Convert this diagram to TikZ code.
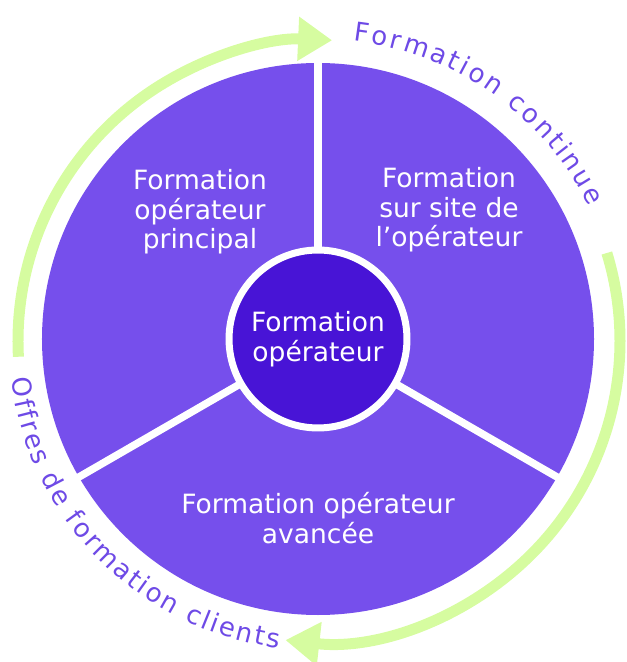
\documentclass[tikz,border=0pt]{standalone}
\usepackage{fontspec}
\setmainfont{DejaVu Sans}
\usetikzlibrary{arrows.meta,decorations.text}

\definecolor{segpurple}{RGB}{118,79,236}
\definecolor{coredark}{RGB}{72,20,214}
\definecolor{lime}{RGB}{214,252,160}
\definecolor{textpurple}{RGB}{110,74,230}

\newcommand\arcfont{\fontsize{14.8pt}{17pt}\selectfont}

\begin{document}
\begin{tikzpicture}[x = 0.02cm, y = 0.02cm,
        segtext/.style = {text = white, align = center,
            font = \fontsize{15.1pt}{16.8pt}\selectfont},
        greenarc/.style = {draw = lime, line width = 0.22cm,
            -{Triangle[length = 0.68cm, width = 0.84cm]}},
        arctext/.style = {decorate, decoration = {text along path,
            text color = textpurple, text align = fit to path}}]

        % Rahmen
        \useasboundingbox (-318, -323) rectangle (308, 339);

        % Scheibe
        \fill [segpurple] (0, 0) circle [radius = 276];
        \foreach \ang in {90, 210, 330}
            \draw [white, line width = 0.15cm] (0, 0) -- (\ang : 285);

        % Mitte
        \node [circle, fill = coredark, draw = white, line width = 0.14cm,
            minimum size = 3.56cm, inner sep = 0pt, segtext]
            (core) at (0, 0) {Formation\\opérateur};

        % Segmente
        \node [segtext] (principal) at (-118, 127) {Formation\\opérateur\\principal};
        \node [segtext] (site) at (131, 129) {Formation\\sur site de\\l’opérateur};
        \node [segtext] (avancee) at (0, -179) {Formation opérateur\\avancée};

        % Pfeile
        \draw [greenarc] ([shift = {(1, -2)}] 183 : 301)
            arc [start angle = 183, end angle = 87.5, radius = 301];
        \draw [greenarc] ([shift = {(1, -2)}] 17 : 301)
            arc [start angle = 17, end angle = -96.4, radius = 301];

        % Beschriftung aussen
        \path [arctext, decoration = {text = {|\arcfont|Formation continue}}]
            ([shift = {(1, -2)}] 83.5 : 302)
            arc [start angle = 83.5, end angle = 26.5, radius = 302];
        \path [arctext, decoration = {text = {|\arcfont|Offres de formation clients}}]
            ([shift = {(1, -2)}] 187 : 310)
            arc [start angle = 187, end angle = 262.5, radius = 310];
\end{tikzpicture}
\end{document}
